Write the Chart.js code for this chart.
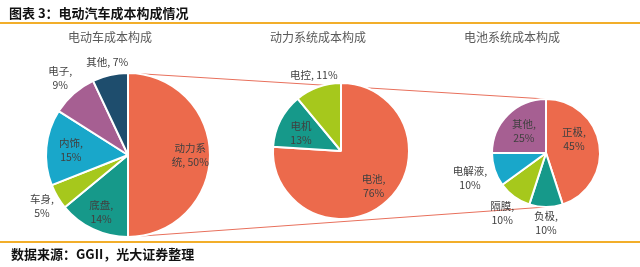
<!DOCTYPE html>
<html><head><meta charset="utf-8">
<script src="https://cdn.jsdelivr.net/npm/chart.js@4/dist/chart.umd.min.js"></script>
<style>
html,body{margin:0;padding:0;background:#fff;width:640px;height:267px;overflow:hidden;font-family:"Noto Sans CJK SC","Noto Sans",sans-serif;}
#wrap{position:relative;width:640px;height:267px;}
canvas{position:absolute;left:0;top:0;}
.t{position:absolute;white-space:nowrap;}
#title{left:9px;top:3px;font-size:13px;font-weight:bold;color:#111;}
#src{left:11px;top:244px;font-size:13px;font-weight:bold;color:#111;}
.sub{top:28px;font-size:12px;color:#595959;transform:translateX(-50%);}
.rule{position:absolute;left:0;width:640px;height:2px;background:#F2AE2A;}
</style></head>
<body><div id="wrap">
<canvas id="bg" width="640" height="267"></canvas>
<canvas id="c1" width="640" height="267"></canvas>
<canvas id="c2" width="640" height="267"></canvas>
<canvas id="c3" width="640" height="267"></canvas>
<div class="t" id="title">图表 3：电动汽车成本构成情况</div>
<div class="rule" style="top:22px"></div>
<div class="t sub" style="left:110px">电动车成本构成</div>
<div class="t sub" style="left:318px">动力系统成本构成</div>
<div class="t sub" style="left:512px">电池系统成本构成</div>
<div class="rule" style="top:241px"></div>
<div class="t" id="src">数据来源：GGII，光大证券整理</div>
</div>
<script>
// ---- data ----
const evCategories = ['动力系统','底盘','车身','内饰','电子','其他'];
const evValues = [50,14,5,15,9,7];
const powerCategories = ['电池','电机','电控'];
const powerValues = [76,13,11];
const batteryCategories = ['正极','负极','隔膜','电解液','其他'];
const batteryValues = [45,10,10,10,25];

// ---- styles ----
const C = {orange:'#EC6A4C', teal:'#16998A', lime:'#A6C81C', cyan:'#19A7CA', purple:'#A65F92', navy:'#1E4D6D'};
const evColors = [C.orange,C.teal,C.lime,C.cyan,C.purple,C.navy];
const powerColors = [C.orange,C.teal,C.lime];
const batteryColors = [C.orange,C.teal,C.lime,C.cyan,C.purple];
// label radial factor, text break mode ('n' = newline after comma, 'i' = inline, number = break after n chars), nudges
const evLabelR = [0.76,0.77,1.22,0.70,1.25,1.16];
const evBreak = [3,'n','n','n','n','i'];
const evNudge = [[0,0],[0,0],[0,0],[0,0],[0,0],[0,0]];
const powerLabelR = [0.70,0.66,1.18];
const powerBreak = ['n','nc','i'];
const powerNudge = [[0,0],[0,2],[0,0]];
const batteryLabelR = [0.58,1.30,1.38,1.48,0.58];
const batteryBreak = ['n','n','n','n','n'];
const batteryNudge = [[-3,-9],[0,0],[0,0],[0,0],[0,0]];

function labelLines(name, v, mode){
  if(mode==='i') return [name+', '+v+'%'];
  if(mode==='n') return [name+',', v+'%'];
  if(mode==='nc') return [name, v+'%'];
  const full = name+', '+v+'%';
  return [full.slice(0,mode), full.slice(mode)];
}

const labelPlugin = {
  id:'pieLabels',
  afterDatasetsDraw(chart, args, opts){
    const ctx = chart.ctx;
    const meta = chart.getDatasetMeta(0);
    const ds = chart.data.datasets[0];
    ctx.save();
    ctx.font = '10.5px "Noto Sans CJK SC", sans-serif';
    ctx.fillStyle = '#404040';
    ctx.textAlign = 'center';
    ctx.textBaseline = 'middle';
    meta.data.forEach((arc,i)=>{
      const mid = (arc.startAngle+arc.endAngle)/2;
      const r = arc.outerRadius*opts.radii[i];
      const x = arc.x + Math.cos(mid)*r + opts.nudge[i][0];
      const y = arc.y + Math.sin(mid)*r + opts.nudge[i][1];
      const lines = labelLines(chart.data.labels[i], ds.data[i], opts.breaks[i]);
      const lh = 14;
      lines.forEach((ln,k)=>{
        ctx.fillText(ln, x, y + (k-(lines.length-1)/2)*lh);
      });
    });
    ctx.restore();
  }
};
Chart.register(labelPlugin);

function makePie(id, labels, values, colors, cx, cy, radius, radii, breaks, nudge){
  const W=640,H=267,half=60;
  return new Chart(document.getElementById(id), {
    type:'pie',
    data:{labels:labels, datasets:[{data:values, backgroundColor:colors, borderColor:'#fff', borderWidth:2}]},
    options:{
      responsive:false, animation:false, radius:radius,
      layout:{padding:{left:cx-half,right:W-cx-half,top:cy-half,bottom:H-cy-half}},
      plugins:{legend:{display:false},tooltip:{enabled:false},pieLabels:{radii:radii,breaks:breaks,nudge:nudge}}
    }
  });
}

const ch1 = makePie('c1', evCategories, evValues, evColors, 128,155,82, evLabelR, evBreak, evNudge);
const ch2 = makePie('c2', powerCategories, powerValues, powerColors, 341,151,68, powerLabelR, powerBreak, powerNudge);
const ch3 = makePie('c3', batteryCategories, batteryValues, batteryColors, 546,153,54, batteryLabelR, batteryBreak, batteryNudge);

// connecting lines (behind pies)
const a = ch1.getDatasetMeta(0).data[0], b = ch3.getDatasetMeta(0).data[0];
const bg = document.getElementById('bg').getContext('2d');
bg.strokeStyle = '#E8705C'; bg.lineWidth = 1;
bg.beginPath();
bg.moveTo(a.x, a.y-a.outerRadius); bg.lineTo(b.x, b.y-b.outerRadius);
bg.moveTo(a.x, a.y+a.outerRadius); bg.lineTo(b.x, b.y+b.outerRadius);
bg.stroke();
</script>
</body></html>
